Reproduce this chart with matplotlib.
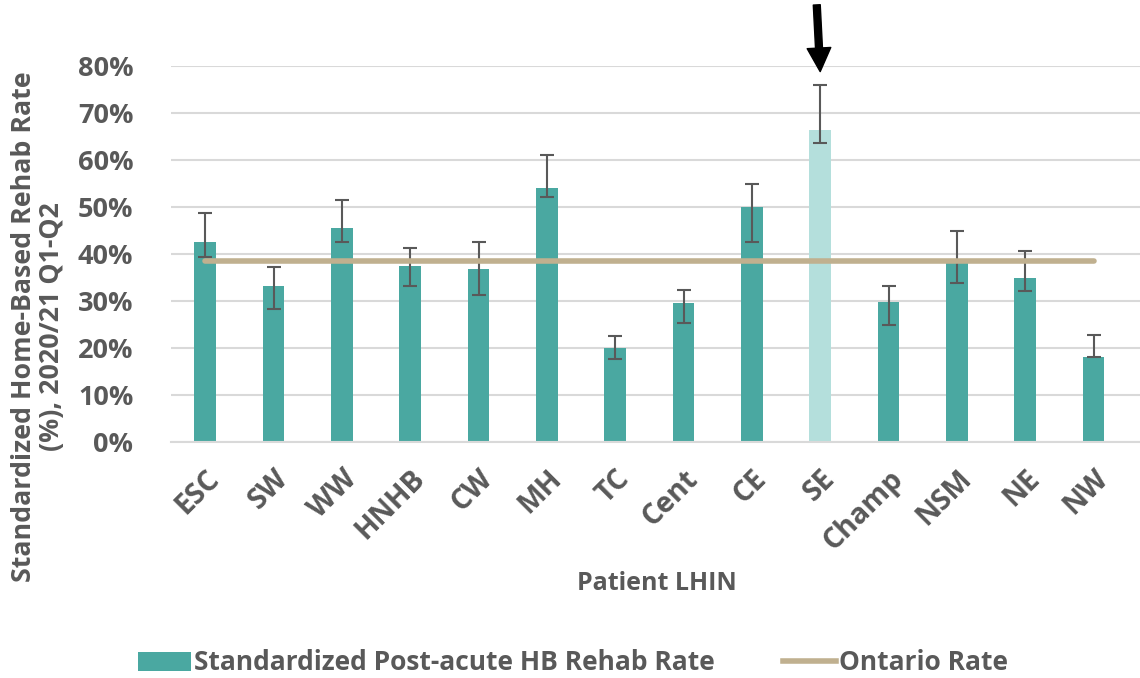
import matplotlib
matplotlib.use("Agg")
import matplotlib.pyplot as plt
from matplotlib.patches import Patch
from matplotlib.lines import Line2D
import numpy as np

# Data (percent)
lhins = ["ESC", "SW", "WW", "HNHB", "CW", "MH", "TC", "Cent", "CE", "SE", "Champ", "NSM", "NE", "NW"]
rates = [42.5, 33.2, 45.5, 37.5, 36.8, 54.0, 20.0, 29.5, 50.0, 66.3, 29.7, 38.0, 35.0, 18.0]
ci_low = [39.4, 28.4, 42.5, 33.2, 31.3, 52.1, 17.6, 25.3, 42.6, 63.6, 24.8, 33.8, 32.1, 18.0]
ci_high = [48.7, 37.2, 51.5, 41.2, 42.5, 61.0, 22.6, 32.3, 55.0, 75.9, 33.1, 45.0, 40.6, 22.7]
ontario_rate = 38.6
highlight = "SE"

teal = "#4aa8a1"
light_teal = "#b4dfdc"
tan = "#c0b08f"
grey = "#595959"

plt.rcParams["font.family"] = ["Open Sans", "DejaVu Sans"]
plt.rcParams["font.weight"] = "bold"

fig = plt.figure(figsize=(11.4, 6.78), dpi=100)
ax = fig.add_axes([171 / 1140, 236 / 678, 969 / 1140, 376 / 678])

x = np.arange(len(lhins))
colors = [light_teal if n == highlight else teal for n in lhins]
yerr = [np.array(rates) - np.array(ci_low), np.array(ci_high) - np.array(rates)]

ax.bar(x, rates, width=0.32, color=colors, zorder=2)
ax.errorbar(x, rates, yerr=yerr, fmt="none", ecolor=grey, elinewidth=1.5,
            capsize=5, capthick=1.5, zorder=3)
ax.plot([x[0], x[-1]], [ontario_rate, ontario_rate], color=tan, linewidth=4,
        solid_capstyle="round", zorder=4)

ax.set_ylim(0, 80)
ax.set_xlim(-0.5, 13.68)
ax.set_yticks(range(0, 81, 10))
ax.set_yticklabels([f"{v}%" for v in range(0, 81, 10)])
ax.yaxis.grid(True, color="#d9d9d9", linewidth=1.5, zorder=0)
ax.set_axisbelow(True)
for s in ["top", "right", "left"]:
    ax.spines[s].set_visible(False)
ax.spines["bottom"].set_color("#d9d9d9")
ax.spines["bottom"].set_linewidth(1.5)
ax.tick_params(axis="both", length=0, colors=grey)
ax.tick_params(axis="y", pad=27, labelsize=19.5)

ax.set_xticks(x)
ax.set_xticklabels(lhins, rotation=45, ha="right", rotation_mode="anchor")
ax.tick_params(axis="x", pad=16, labelsize=20.5)

fig.text(657 / 1140, 1 - 583 / 678, "Patient LHIN", ha="center", va="center",
         fontsize=18, color=grey, fontweight="bold")
fig.text(38 / 1140, 1 - 327 / 678, "Standardized Home-Based Rehab Rate\n(%), 2020/21 Q1-Q2",
         rotation=90, ha="center", va="center", multialignment="center",
         fontsize=19.3, color=grey, fontweight="bold", linespacing=1.1)

# arrow pointing at SE
ax.annotate("", xy=(9, 78.8), xytext=(8.95, 93.0),
            arrowprops=dict(width=5, headwidth=17, headlength=17, color="black",
                            shrink=0),
            annotation_clip=False)

handles = [Patch(facecolor=teal, label="Standardized Post-acute HB Rehab Rate"),
           Line2D([], [], color=tan, linewidth=4, label="Ontario Rate")]
fig.legend(handles=handles, loc="center", bbox_to_anchor=(573 / 1140, 1 - 663 / 678),
           ncol=2, frameon=False, fontsize=19, labelcolor=grey, columnspacing=2.6,
           handlelength=2.0, handletextpad=0.1)

fig.savefig("out.png", dpi=100)
